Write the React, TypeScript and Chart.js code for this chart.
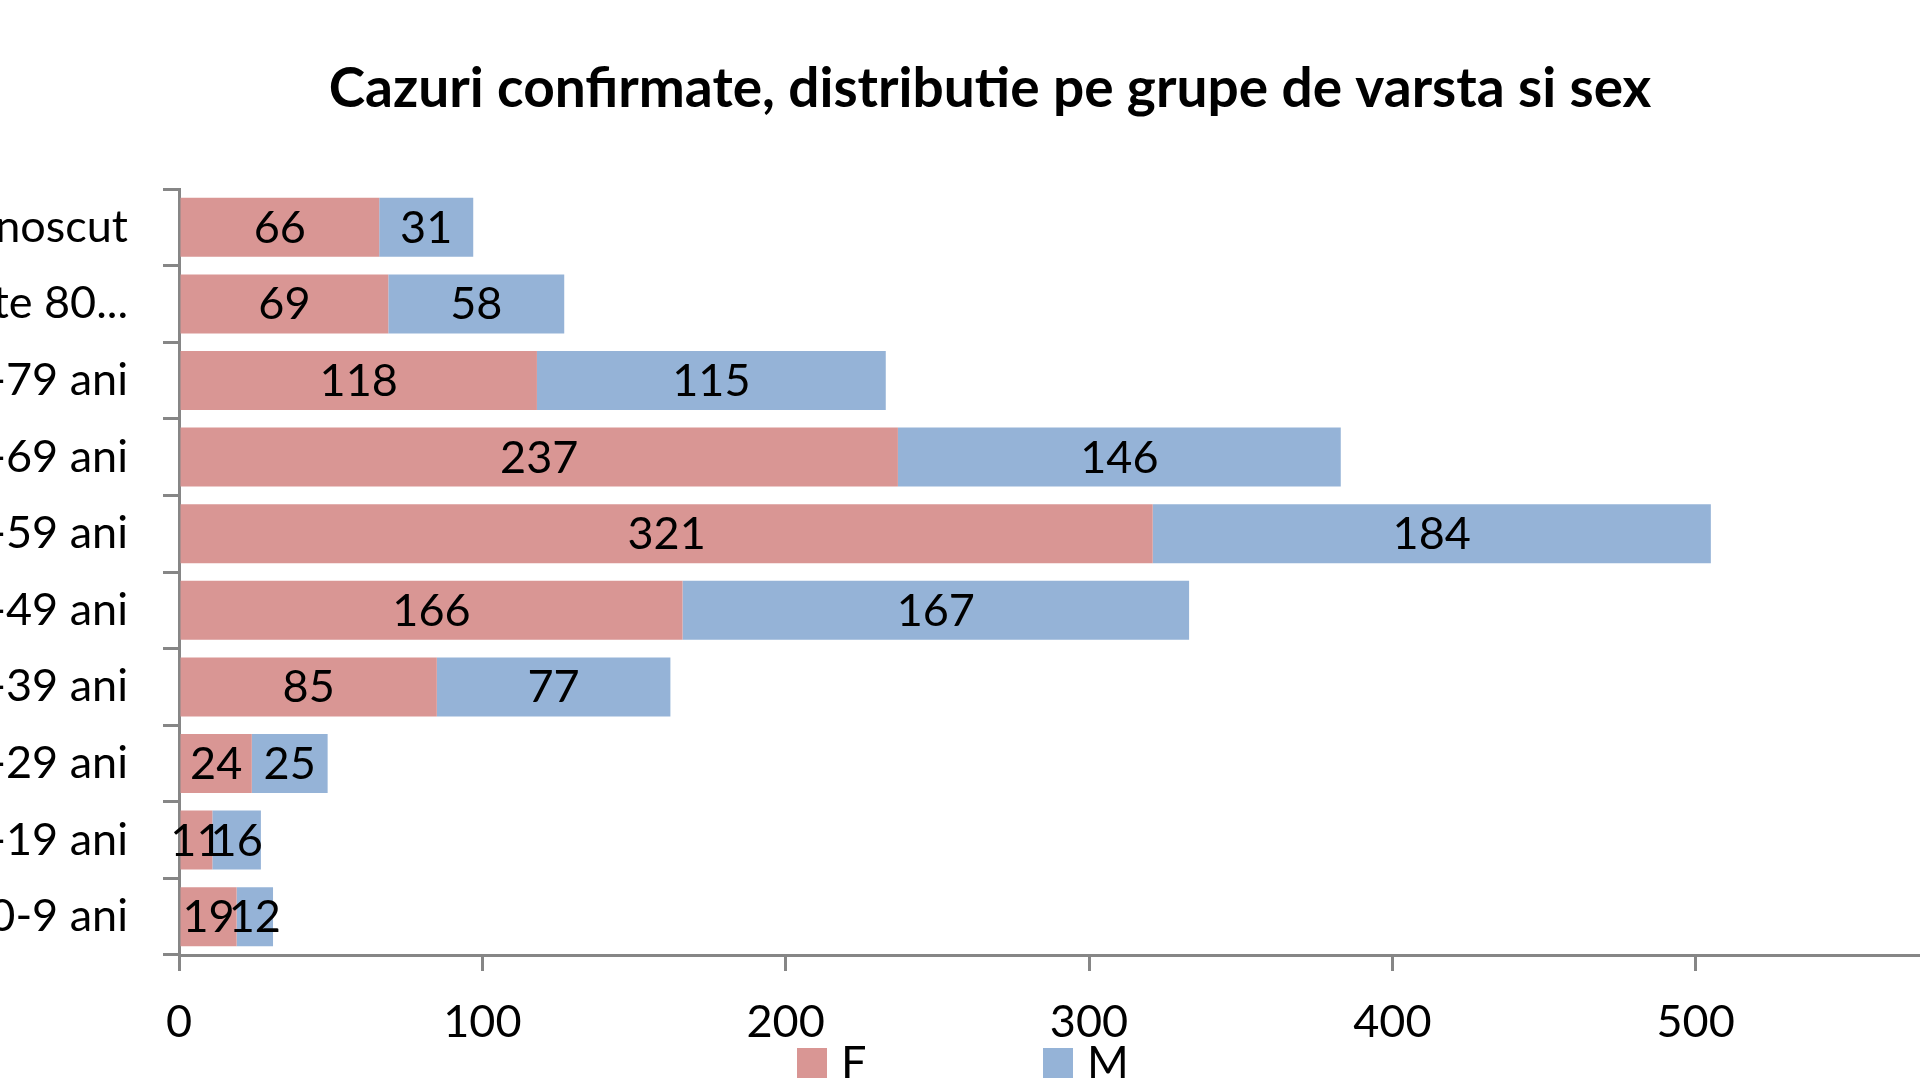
import React, { useEffect, useRef } from 'react'
import Chart, { ChartConfiguration, Plugin } from 'chart.js/auto'

const categories = [
  'Necunoscut',
  'Peste 80...',
  '70-79 ani',
  '60-69 ani',
  '50-59 ani',
  '40-49 ani',
  '30-39 ani',
  '20-29 ani',
  '10-19 ani',
  '0-9 ani',
]
const femaleValues = [66, 69, 118, 237, 321, 166, 85, 24, 11, 19]
const maleValues = [31, 58, 115, 146, 184, 167, 77, 25, 16, 12]
const xTicks = [0, 100, 200, 300, 400, 500, 600]

const FONT = 'Lato, "Open Sans", sans-serif'
const AXIS_GREY = '#868686'

// canvas is wider than the window: left and right ends are clipped like the original
const CANVAS_W = 2222
const CANVAS_H = 1120
const CANVAS_LEFT = -121

const valueLabels: Plugin<'bar'> = {
  id: 'valueLabels',
  afterDatasetsDraw(chart) {
    const { ctx } = chart
    ctx.save()
    ctx.font = `45px ${FONT}`
    ctx.fillStyle = '#000'
    ctx.textAlign = 'center'
    ctx.textBaseline = 'middle'
    chart.data.datasets.forEach((ds, i) => {
      const meta = chart.getDatasetMeta(i)
      meta.data.forEach((bar: any, j) => {
        const { x, y, base } = bar.getProps(['x', 'y', 'base'], true)
        ctx.fillText(String(ds.data[j]), (x + base) / 2, y + 1)
      })
    })
    ctx.restore()
  },
}

const bottomLegend: Plugin<'bar'> = {
  id: 'bottomLegend',
  afterDraw(chart) {
    const { ctx } = chart
    const left = chart.width / 2 - 193
    const boxTop = 1048
    ctx.save()
    ctx.font = `45px ${FONT}`
    ctx.textBaseline = 'middle'
    ctx.textAlign = 'left'
    chart.data.datasets.forEach((ds, i) => {
      const bx = left + i * 246
      ctx.fillStyle = ds.backgroundColor as string
      ctx.fillRect(bx, boxTop, 30, 30)
      ctx.fillStyle = '#000'
      ctx.fillText(ds.label || '', bx + 44, boxTop + 15)
    })
    ctx.restore()
  },
}

const AgeSexChart: React.FC = () => {
  const chartRef = useRef<HTMLCanvasElement | null>(null)
  const chartInstance = useRef<Chart | null>(null)

  useEffect(() => {
    if (!chartRef.current) return
    if (chartInstance.current) chartInstance.current.destroy()
    const ctx = chartRef.current.getContext('2d')
    if (!ctx) return

    const config: ChartConfiguration<'bar'> = {
      type: 'bar',
      data: {
        labels: categories,
        datasets: [
          {
            label: 'F',
            data: femaleValues,
            backgroundColor: '#D99694',
            borderWidth: 0,
            barPercentage: 0.77,
            categoryPercentage: 1,
          },
          {
            label: 'M',
            data: maleValues,
            backgroundColor: '#95B3D7',
            borderWidth: 0,
            barPercentage: 0.77,
            categoryPercentage: 1,
          },
        ],
      },
      options: {
        indexAxis: 'y',
        responsive: false,
        animation: false,
        layout: {
          padding: { left: 102, right: 102, top: 0, bottom: 0 },
        },
        plugins: {
          legend: { display: false },
          tooltip: { enabled: false },
          title: {
            display: true,
            text: 'Cazuri confirmate, distributie pe grupe de varsta si sex',
            color: '#000',
            font: { family: FONT, size: 55, weight: 'bold' },
            padding: { top: 56, bottom: 67 },
          },
        },
        scales: {
          x: {
            stacked: true,
            min: 0,
            max: 600,
            afterBuildTicks: (scale) => {
              scale.ticks = xTicks.map((v) => ({ value: v }))
            },
            afterFit: (scale) => {
              scale.height = 165
            },
            border: { display: true, color: AXIS_GREY, width: 3 },
            grid: {
              display: true,
              drawOnChartArea: false,
              drawTicks: true,
              tickLength: 16,
              color: AXIS_GREY,
              lineWidth: 3,
            },
            ticks: {
              color: '#000',
              padding: 24,
              maxRotation: 0,
              font: { family: FONT, size: 45 },
            },
          },
          y: {
            stacked: true,
            afterFit: (scale) => {
              scale.width = 198
            },
            border: { display: true, color: AXIS_GREY, width: 3 },
            grid: {
              display: true,
              offset: true,
              drawOnChartArea: false,
              drawTicks: true,
              tickLength: 16,
              color: AXIS_GREY,
              lineWidth: 3,
            },
            ticks: {
              color: '#000',
              padding: 35,
              autoSkip: false,
              font: { family: FONT, size: 45 },
            },
          },
        },
      },
      plugins: [valueLabels, bottomLegend],
    }

    chartInstance.current = new Chart(ctx, config)

    return () => {
      if (chartInstance.current) chartInstance.current.destroy()
    }
  }, [])

  return (
    <div
      style={{
        position: 'fixed',
        top: 0,
        left: 0,
        width: 1920,
        height: 1080,
        overflow: 'hidden',
        background: '#fff',
      }}
    >
      <canvas
        ref={chartRef}
        width={CANVAS_W}
        height={CANVAS_H}
        style={{ position: 'absolute', left: CANVAS_LEFT, top: 0, width: CANVAS_W, height: CANVAS_H }}
      />
    </div>
  )
}

export default function App() {
  return <AgeSexChart />
}
